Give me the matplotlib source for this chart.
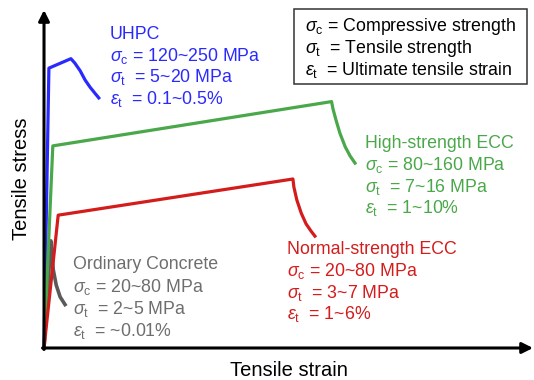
import matplotlib
matplotlib.use('Agg')
import matplotlib.pyplot as plt
import matplotlib.patches as patches

plt.rcParams['font.family'] = ['Liberation Sans', 'DejaVu Sans']
plt.rcParams['mathtext.fontset'] = 'custom'
plt.rcParams['mathtext.rm'] = 'Liberation Sans'
plt.rcParams['mathtext.it'] = 'Liberation Sans:italic'

# schematic stress-strain curves (arbitrary units, 0..100 on each axis)
uhpc_strain = [0, 1.0, 5.5, 6.3, 7.4, 8.4, 9.4, 10.4, 11.2]
uhpc_stress = [0, 82.8, 85.6, 84.3, 82.0, 79.3, 77.2, 75.4, 74.0]

hs_ecc_strain = [0, 1.8, 58.8, 59.1, 59.7, 60.5, 61.6, 62.6, 63.6]
hs_ecc_stress = [0, 59.8, 72.9, 70.7, 67.5, 63.6, 59.5, 56.8, 54.7]

ns_ecc_strain = [0, 2.9, 50.9, 51.1, 51.7, 52.6, 53.6, 54.6, 55.4]
ns_ecc_stress = [0, 39.3, 50.0, 47.6, 43.8, 39.9, 36.7, 34.6, 33.1]

oc_strain = [0, 1.4, 1.6, 1.9, 2.5, 3.3, 4.5]
oc_stress = [0, 31.7, 27.5, 23.1, 18.6, 15.1, 12.4]

uhpc_lines = ['UHPC',
              r'$\sigma_\mathrm{c}$ = 120~250 MPa',
              r'$\sigma_\mathrm{t}$  = 5~20 MPa',
              r'$\varepsilon_\mathrm{t}$  = 0.1~0.5%']
hs_lines = ['High-strength ECC',
            r'$\sigma_\mathrm{c}$ = 80~160 MPa',
            r'$\sigma_\mathrm{t}$  = 7~16 MPa',
            r'$\varepsilon_\mathrm{t}$  = 1~10%']
ns_lines = ['Normal-strength ECC',
            r'$\sigma_\mathrm{c}$ = 20~80 MPa',
            r'$\sigma_\mathrm{t}$  = 3~7 MPa',
            r'$\varepsilon_\mathrm{t}$  = 1~6%']
oc_lines = ['Ordinary Concrete',
            r'$\sigma_\mathrm{c}$ = 20~80 MPa',
            r'$\sigma_\mathrm{t}$  = 2~5 MPa',
            r'$\varepsilon_\mathrm{t}$  = ~0.01%']
key_lines = [r'$\sigma_\mathrm{c}$ = Compressive strength',
             r'$\sigma_\mathrm{t}$  = Tensile strength',
             r'$\varepsilon_\mathrm{t}$  = Ultimate tensile strain']

blue = '#2a2aff'
green = '#4aa84a'
red = '#d41c1c'
grey_line = '#5a5a5a'
grey_text = '#6e6e6e'

fig = plt.figure(figsize=(5.34, 3.80), dpi=100)
ax = fig.add_axes([0, 0, 1, 1])
ax.set_xlim(-9.0, 100.2)
ax.set_ylim(-9.47, 102.96)
ax.axis('off')

lw = 2.3
ax.plot(oc_strain, oc_stress, color=grey_line, lw=2.6, zorder=2,
        solid_capstyle='butt')
ax.plot(uhpc_strain, uhpc_stress, color=blue, lw=lw, zorder=3)
ax.plot(hs_ecc_strain, hs_ecc_stress, color=green, lw=lw, zorder=3)
ax.plot(ns_ecc_strain, ns_ecc_stress, color=red, lw=lw, zorder=4)

# axes with arrows
arrow = dict(arrowstyle='-|>', lw=2.2, color='black', mutation_scale=16,
             shrinkA=0, shrinkB=0)
ax.annotate('', xy=(100, 0), xytext=(-0.3, 0), arrowprops=arrow, zorder=5)
ax.annotate('', xy=(0, 100), xytext=(0, -0.45), arrowprops=arrow, zorder=5)

ax.text(50, -6.6, 'Tensile strain', fontsize=14.5, ha='center', va='center')
ax.text(-4.7, 50, 'Tensile stress', fontsize=14.5, ha='center', va='center',
        rotation=90)

fs = 12.8


def put_lines(lines, x, y0, color, step=6.42):
    for i, s in enumerate(lines):
        ax.text(x, y0 - i * step, s, fontsize=fs, color=color,
                ha='left', va='baseline')


put_lines(uhpc_lines, 13.5, 91.4, blue)
put_lines(hs_lines, 65.6, 59.1, green)
put_lines(ns_lines, 49.7, 27.7, red)
put_lines(oc_lines, 5.9, 23.3, grey_text, step=6.6)
put_lines(key_lines, 53.4, 93.7, 'black')

box = patches.Rectangle((51.1, 78.1), 47.7, 22.2, fill=False,
                        ec='#333333', lw=1.1, zorder=1)
ax.add_patch(box)

fig.savefig('out.png', dpi=100)
plt.close(fig)
